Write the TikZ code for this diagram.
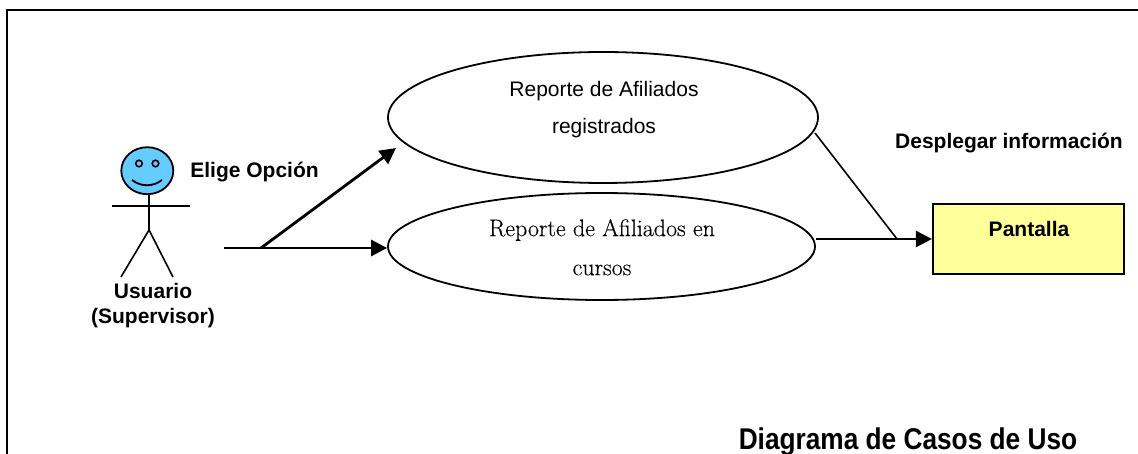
\documentclass[tikz,border=0pt]{standalone}
\usepackage{fontspec}
\setmainfont{Liberation Sans}
\newfontfamily\lmfont[FakeBold=0.2]{Latin Modern Roman}
\usetikzlibrary{shapes.geometric,arrows.meta}
\definecolor{headblue}{HTML}{66CCFF}
\definecolor{paleyellow}{HTML}{FFFF99}
\tikzset{
  usecase/.style={draw=black,line width=1.8pt,ellipse,inner sep=0pt},
  label/.style={inner sep=0pt,font=\bfseries\fontsize{21}{25}\selectfont,align=center},
  plain/.style={inner sep=0pt,font=\fontsize{21}{25}\selectfont,align=center},
  serifcase/.style={inner sep=0pt,font=\lmfont\fontsize{24}{28}\selectfont,align=center},
  wire/.style={line width=1.6pt},
  flow/.style={line width=2.8pt,-{Triangle[length=16pt,width=16pt]}}
}
\begin{document}
\begin{tikzpicture}[x=1pt,y=-1pt]
\useasboundingbox (0,0) rectangle (1138,454);
\fill[white] (0,0) rectangle (1138,454);
\coordinate (ftl) at (7,10);
\coordinate (ftr) at (1138,10);
\coordinate (fbl) at (7,454);
\draw[line width=2pt] (fbl) -- (ftl) -- (ftr);
% use cases
\node[usecase,minimum width=430pt,minimum height=131pt] (uc1) at (603,117.5) {};
\node[usecase,minimum width=427pt,minimum height=107pt] (uc2) at (601.5,246.5) {};
\node[plain] (t1a) at (604,91) {Reporte de Afiliados};
\node[plain] (t1b) at (604,128) {registrados};
\node[serifcase] (t2a) at (602,230) {Reporte de Afiliados en};
\node[serifcase] (t2b) at (602,270) {cursos};
% actor
\node[draw=black,line width=1.8pt,fill=headblue,ellipse,minimum width=52pt,minimum height=47pt,inner sep=0pt] (head) at (147.3,170.7) {};
\node[draw=black,line width=1.6pt,circle,minimum size=6.5pt,inner sep=0pt] (eyeL) at (139,163.5) {};
\node[draw=black,line width=1.6pt,circle,minimum size=6.5pt,inner sep=0pt] (eyeR) at (155.5,163.5) {};
\coordinate (smileL) at (132,180);
\coordinate (smileR) at (162,180);
\draw[line width=1.8pt] (smileL) .. controls (141,187) and (153,187) .. (smileR);
\coordinate (hip) at (149,230);
\coordinate (armL) at (112,206);
\coordinate (armR) at (190,206);
\coordinate (footL) at (121,277);
\coordinate (footR) at (173,277);
\draw[wire] (149,193) -- (hip);
\draw[wire] (armL) -- (armR);
\draw[wire] (footL) -- (hip) -- (footR);
\node[label] (actor) at (153,306) {Usuario\\(Supervisor)};
\node[label] (elige) at (254.5,172.5) {Elige Opción};
% connectors
\coordinate (start) at (224,248);
\coordinate (fork) at (261,248);
\coordinate (tip1) at (396,148);
\draw[flow] (start) -- (uc2.west |- start);
\draw[flow] (fork) -- (tip1);
\coordinate (out1) at (815,133);
\coordinate (join) at (897,239);
\node[draw=black,line width=1.8pt,fill=paleyellow,minimum width=191pt,minimum height=70pt,inner sep=0pt] (screen) at (1028.3,239) {};
\node[label] (pant) at (1029,228.5) {Pantalla};
\draw[wire] (out1) -- (join);
\draw[flow] (uc2.east |- screen.west) -- (screen.west);
\node[label] (desp) at (1009,143.5) {Desplegar información};
\node[anchor=base,inner sep=0pt,font=\bfseries\fontsize{30}{34}\selectfont,xscale=0.875,transform shape] (title) at (908,449) {Diagrama de Casos de Uso};
\end{tikzpicture}
\end{document}
